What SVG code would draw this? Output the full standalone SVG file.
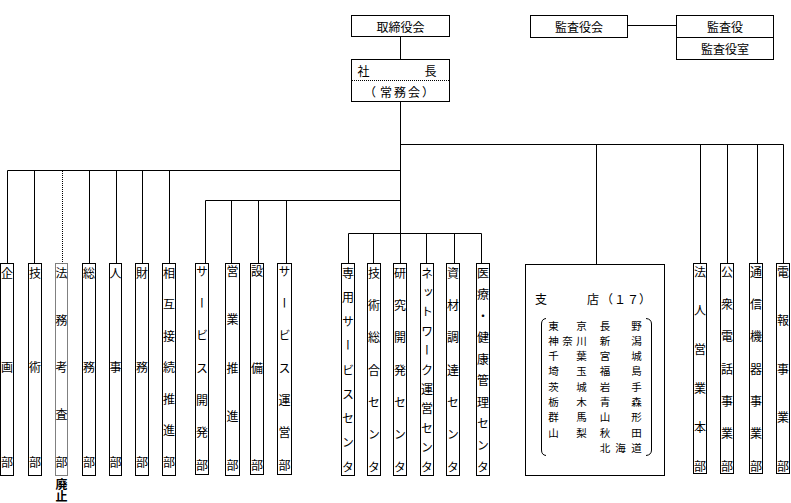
<svg xmlns="http://www.w3.org/2000/svg" width="791" height="503" viewBox="0 0 791 503">
<style>
.bx{fill:#fff;stroke:#000;stroke-width:1}
.dot{fill:#fff;stroke:#000;stroke-width:1;stroke-dasharray:1 1}
.ln{fill:none;stroke:#000;stroke-width:1}
.dl{fill:none;stroke:#000;stroke-width:1;stroke-dasharray:1 1}
text{font-family:"Noto Sans CJK JP","Noto Sans CJK SC",sans-serif;font-size:12px;fill:#000}
.c{text-anchor:middle;dominant-baseline:central}
.v{writing-mode:vertical-rl}
.s{font-size:10.5px}
</style>
<rect width="791" height="503" fill="#fff"/>
<g id="connectors">
<path class="ln" d="M400.5 36.5V263.5M627.5 25.5H676.5"/>
<path class="ln" d="M400.5 144.5H783.5M596.5 144.5V264.5M700.5 144.5V263.5M727.5 144.5V263.5M757.5 144.5V263.5M783.5 144.5V263.5"/>
<path class="ln" d="M7.5 170.5H400.5M7.5 170.5V263.5M34.5 170.5V263.5M89.5 170.5V263.5M116.5 170.5V263.5M142.5 170.5V263.5M169.5 170.5V263.5"/>
<path class="dl" d="M62.5 171V263.5"/>
<path class="ln" d="M205.5 200.5H400.5M205.5 200.5V263.5M231.5 200.5V263.5M258.5 200.5V263.5M286.5 200.5V263.5"/>
<path class="ln" d="M348.5 233.5H481.5M348.5 233.5V263.5M373.5 233.5V263.5M426.5 233.5V263.5M454.5 233.5V263.5M481.5 233.5V263.5"/>
</g>
<g id="torishimariyakukai"><rect class="bx" x="351.5" y="15.5" width="98" height="21"/><text class="c" x="400.5" y="26">取締役会</text></g>
<g id="shacho"><rect class="bx" x="351.5" y="59.5" width="98" height="42"/><path class="dl" d="M352 80.5H449"/>
<text class="c" x="363.5 430.5" y="70">社長</text>
<text class="c" x="370 386 400 414 428" y="91.5">（常務会）</text></g>
<g id="kansayakukai"><rect class="bx" x="530.5" y="15.5" width="97" height="22"/><text class="c" x="579" y="26.5">監査役会</text></g>
<g id="kansayaku"><rect class="bx" x="676.5" y="15.5" width="97" height="22"/><text class="c" x="725" y="26.5">監査役</text></g>
<g id="kansayakushitsu"><rect class="bx" x="676.5" y="37.5" width="97" height="22"/><text class="c" x="725" y="48.5">監査役室</text></g>

<g id="kikaku"><rect class="bx" x="0.5" y="263.5" width="13" height="212"/><text class="v" x="7" y="267" letter-spacing="82.5">企画<tspan letter-spacing="0">部</tspan></text></g>
<g id="gijutsu"><rect class="bx" x="28.5" y="263.5" width="13" height="212"/><text class="v" x="35" y="267" letter-spacing="82.5">技術<tspan letter-spacing="0">部</tspan></text></g>
<g id="houmu"><rect class="dot" x="55.5" y="263.5" width="12" height="212"/><text class="v" x="61.5" y="267" letter-spacing="35.25">法務考査<tspan letter-spacing="0">部</tspan></text>
<text class="v" x="61.5" y="478" font-size="11" font-weight="bold">廃止</text></g>
<g id="soumu"><rect class="bx" x="82.5" y="263.5" width="13" height="212"/><text class="v" x="89" y="267" letter-spacing="82.5">総務<tspan letter-spacing="0">部</tspan></text></g>
<g id="jinji"><rect class="bx" x="109.5" y="263.5" width="12" height="212"/><text class="v" x="115.5" y="267" letter-spacing="82.5">人事<tspan letter-spacing="0">部</tspan></text></g>
<g id="zaimu"><rect class="bx" x="135.5" y="263.5" width="13" height="212"/><text class="v" x="142" y="267" letter-spacing="82.5">財務<tspan letter-spacing="0">部</tspan></text></g>
<g id="sougo"><rect class="bx" x="162.5" y="263.5" width="13" height="212"/><text class="v" x="169" y="267" letter-spacing="19.5">相互接続推進<tspan letter-spacing="0">部</tspan></text></g>

<g id="service-kaihatsu"><rect class="bx" x="195.5" y="263.5" width="13" height="211"/><text class="v" x="202" y="265" letter-spacing="20.33">サービス開発<tspan letter-spacing="0">部</tspan></text></g>
<g id="eigyo-suishin"><rect class="bx" x="225.5" y="263.5" width="14" height="212"/><text class="v" x="232.5" y="265" letter-spacing="36.5">営業推進<tspan letter-spacing="0">部</tspan></text></g>
<g id="setsubi"><rect class="bx" x="250.5" y="263.5" width="13" height="211"/><text class="v" x="257" y="265" letter-spacing="85">設備<tspan letter-spacing="0">部</tspan></text></g>
<g id="service-unei"><rect class="bx" x="277.5" y="263.5" width="14" height="211"/><text class="v" x="284.5" y="265" letter-spacing="20.33">サービス運営<tspan letter-spacing="0">部</tspan></text></g>

<g id="senyo"><rect class="bx" x="341.5" y="263.5" width="13" height="212"/><text class="v" x="348" y="267" letter-spacing="12.25">専用サービスセン<tspan letter-spacing="0">タ</tspan></text></g>
<g id="gijutsu-sogo"><rect class="bx" x="367.5" y="263.5" width="13" height="212"/><text class="v" x="374" y="267" letter-spacing="20.33">技術総合セン<tspan letter-spacing="0">タ</tspan></text></g>
<g id="kenkyu"><rect class="bx" x="393.5" y="263.5" width="13" height="212"/><text class="v" x="400" y="267" letter-spacing="20.33">研究開発セン<tspan letter-spacing="0">タ</tspan></text></g>
<g id="network"><rect class="bx" x="420.5" y="263.5" width="13" height="212"/><text class="v" x="427" y="267" letter-spacing="7.4">ネットワーク運営セン<tspan letter-spacing="0">タ</tspan></text></g>
<g id="shizai"><rect class="bx" x="446.5" y="263.5" width="13" height="212"/><text class="v" x="453" y="267" letter-spacing="20.33">資材調達セン<tspan letter-spacing="0">タ</tspan></text></g>
<g id="iryo"><rect class="bx" x="476.5" y="263.5" width="13" height="212"/><text class="v" x="483" y="267" letter-spacing="9.56">医療・健康管理セン<tspan letter-spacing="0">タ</tspan></text></g>

<g id="shiten"><rect class="bx" x="525.5" y="264.5" width="139" height="211"/>
<text class="c" x="541 593 607 620 633 645" y="298.5">支店（１７）</text>
<path class="ln" d="M546 318.5Q541.5 319 541.5 324V450Q541.5 455 546 455.5M646 318.5Q651.5 319 651.5 324V450Q651.5 455 646 455.5"/>
<text class="c s" x="553.5 581.5 605 636.5" y="325">東京長野</text>
<text class="c s" x="553.5 567.5 581.5 605 636.5" y="340.3">神奈川新潟</text>
<text class="c s" x="553.5 581.5 605 636.5" y="355.6">千葉宮城</text>
<text class="c s" x="553.5 581.5 605 636.5" y="370.9">埼玉福島</text>
<text class="c s" x="553.5 581.5 605 636.5" y="386.2">茨城岩手</text>
<text class="c s" x="553.5 581.5 605 636.5" y="401.5">栃木青森</text>
<text class="c s" x="553.5 581.5 605 636.5" y="416.8">群馬山形</text>
<text class="c s" x="553.5 581.5 605 636.5" y="432.1">山梨秋田</text>
<text class="c s" x="605 620.5 636.5" y="447.4">北海道</text>
</g>

<g id="hojin"><rect class="bx" x="693.5" y="263.5" width="13" height="210"/><text class="v" x="700" y="266" letter-spacing="26.8">法人営業本<tspan letter-spacing="0">部</tspan></text></g>
<g id="koshu"><rect class="bx" x="720.5" y="263.5" width="13" height="210"/><text class="v" x="727" y="266" letter-spacing="20.33">公衆電話事業<tspan letter-spacing="0">部</tspan></text></g>
<g id="tsushin"><rect class="bx" x="749.5" y="263.5" width="13" height="210"/><text class="v" x="756" y="266" letter-spacing="20.33">通信機器事業<tspan letter-spacing="0">部</tspan></text></g>
<g id="denpo"><rect class="bx" x="776.5" y="263.5" width="13" height="210"/><text class="v" x="783" y="266" letter-spacing="36.5">電報事業<tspan letter-spacing="0">部</tspan></text></g>
</svg>
